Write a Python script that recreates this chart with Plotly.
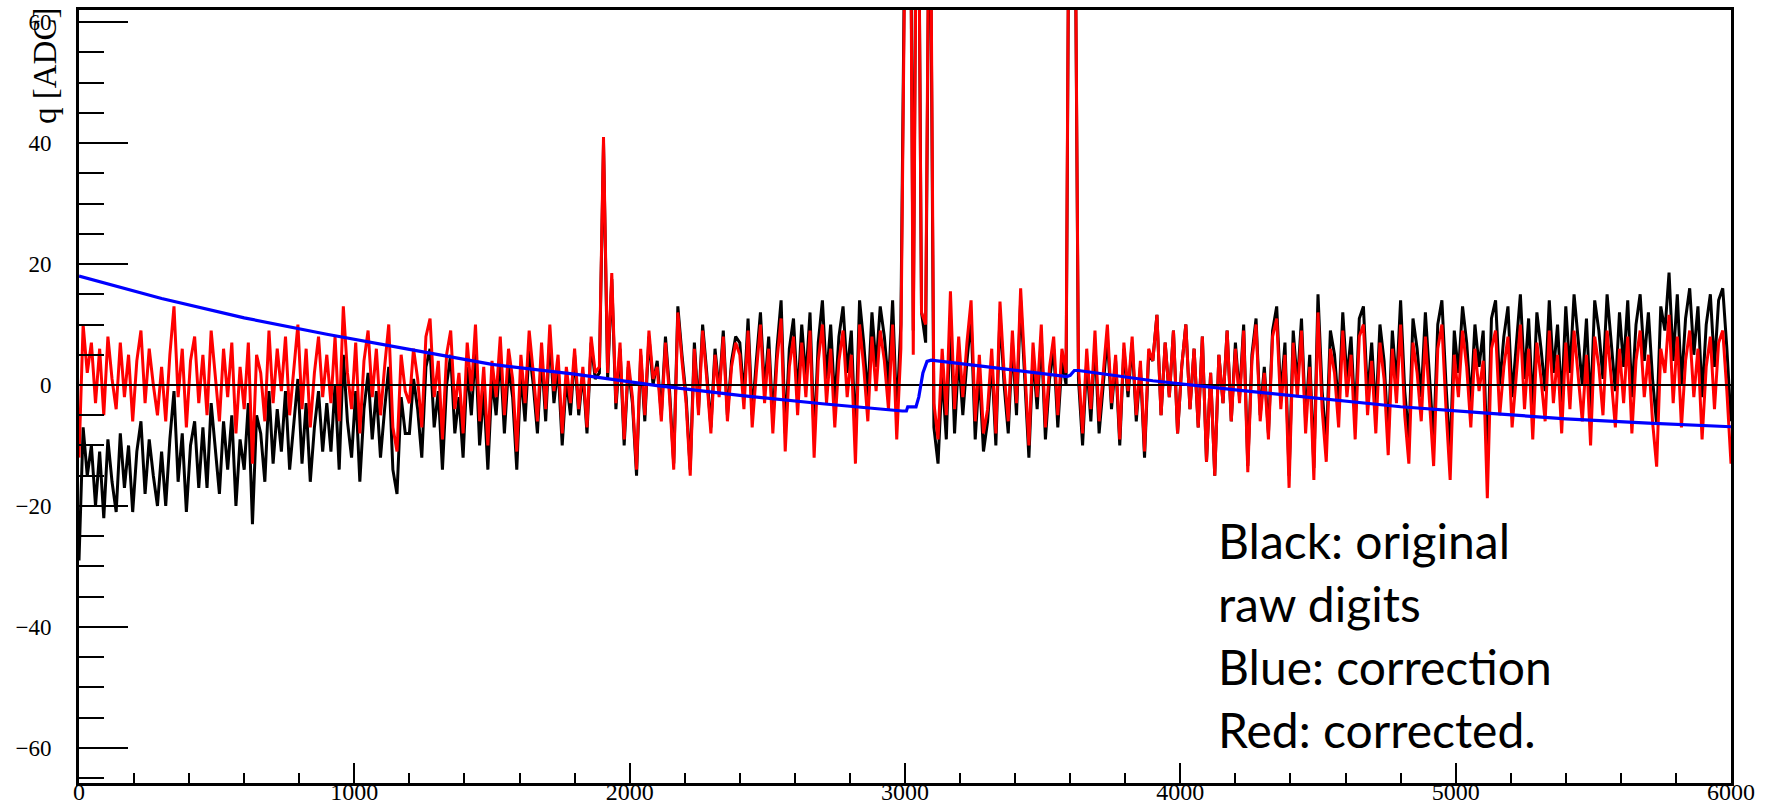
import plotly.graph_objects as go

# Waveform sampled every 15 ticks, 0..6000
sample_step = 15

# Red: corrected ADC values (rows of 20 samples = 300 ticks each)
corrected_adc = (
    [-12, 10, 2, 7, -3, 6, -5, 8, 1, -4, 7, -2, 5, -6, 4, 9, -3, 6, 0, -5]
    + [3, -6, 5, 13, -2, 6, -7, 4, 8, -3, 5, -5, 9, 1, -6, 6, -2, 7, -8, 3]
    + [-4, 7, -13, 5, 2, -6, 9, -3, 6, -1, 8, -5, 3, 10, -4, 6, -7, 2, 8, -2]
    + [5, -3, 8, -6, 13, 2, -4, 7, -8, 4, 9, -2, 6, -5, 3, 10, -7, -11, 5, -1]
    + [-3, 6, 1, -7, 8, 11, -2, 4, -9, 5, 9, -4, 2, -8, 7, -1, 10, -6, 3, -10]
    + [4, -2, 8, -5, 6, 1, -11, 5, -3, 9, 2, -6, 7, -4, 10, -1, 5, -8, 3, -3]
    + [6, -4, 3, -7, 8, 2, 3, 41, 2, 18.5, -3, 7, -9, 4, -2, -14, 6, -5, 9, 1]
    + [3, -6, 7, -2, -14, 12, 4, -3, -15, 6, -5, 9, 1, -8, 5, -2, 8, -6, 3, 7]
    + [5, -4, 9, -7, 2, 10, -3, 6, -8, 4, 11, -11, 3, 8, -5, 7, -2, 9, -12, 4]
    + [10, -3, 6, -7, 4, 9, -2, 5, -13, 10, 3, -6, 8, -1, 9, 4, -4, 10, -9, 6]
    + [75, 120, 5, 110, 12, 10, 100, -3, -9, 6, -5, 15.5, -4, 8, -2, 7, 14, -6, 5, -8]
    + [-4, 6, -8, 13.8, 2, -6, 9, -3, 16, 4, -10, 7, -2, 10, -7, 3, 8, -5, 6, 2]
    + [120, 100, 3, -8, 6, -4, 9, -6, 2, 10, -3, 5, -9, 7, -1, 8, -5, 4, -11, 6]
    + [4, 11.6, -5, 7, -2, 9, -8, 3, 10, -4, 6, -7, 8, -12.7, 2, -15, 5, -3, 9, -6]
    + [6, -3, 9, -14.4, 4, 10, -6, 2, -9, 8, 11, -4, 5, -17, 7, -2, 9, -8, 3, -15.7]
    + [12, -4, -12.7, 6, 2, -7, 9, -2, 5, -9, 8, 10, -5, 4, -8, 7, 1, -11.6, 6, -3]
    + [10, -5, -13, 7, 2, -6, 8, -3, -13.4, 6, 10, -4, -15.7, 5, -2, 9, 3, -7, 6, -1]
    + [4, -18.7, 6, 9, -5, 3, 8, -7, 2, 10, -4, 6, -9, 7, 1, -6, 9, -3, 5, -8]
    + [7, -4, 9, 2, -6, 5, -10, 8, 3, -5, 9, 1, -7, 6, -3, 8, -8, 4, 9, -2]
    + [5, -6, -13.5, 6, 2, 11.6, -3, 8, -7, 4, 9, -2, 6, -9, 3, 8, -4, 7, 9, -1]
    + [-13]
)

# Black: original raw digits
raw_adc = (
    [-29, -7, -15, -10, -20, -11, -22, -9, -16, -21, -8, -17, -10, -21, -11, -6, -18, -9, -15, -20]
    + [-11, -20, -9, -1, -16, -8, -21, -10, -6, -17, -7, -17, -3, -11, -18, -6, -14, -5, -20, -9]
    + [-14, -3, -23, -5, -8, -16, -1, -13, -4, -11, -1, -14, -6, 1, -13, -3, -16, -7, -1, -11]
    + [-3, -11, 0, -14, 5, -6, -12, -1, -16, -4, 2, -9, -1, -12, -4, 3, -14, -18, -2, -8]
    + [-8, 1, -4, -12, 3, 6, -7, -1, -14, 0, 5, -8, -2, -12, 3, -5, 6, -10, -1, -14]
    + [1, -5, 5, -8, 3, -2, -14, 2, -6, 6, 0, -8, 5, -6, 8, -3, 3, -10, 1, -5]
    + [5, -5, 2, -8, 7, 1, 2, 40, 1, 17.5, -4, 6, -10, 3, -3, -15, 5, -6, 8, 0]
    + [4, -5, 8, -1, -13, 13, 5, -2, -14, 7, -4, 10, 2, -7, 6, -1, 9, -5, 4, 8]
    + [7, -2, 11, -5, 4, 12, -1, 8, -6, 6, 14, -8, 6, 11, -2, 10, 1, 12, -9, 7]
    + [14, 1, 10, -3, 8, 13, 2, 9, -9, 14, 7, -2, 12, 3, 13, 8, 0, 14, -5, 10]
    + [79, 124, 9, 113, 12, 7, 96, -7, -13, 2, -9, 11.5, -8, 5, -5, 4, 11, -9, 2, -11]
    + [-6, 4, -10, 11.8, 0, -8, 7, -5, 14, 2, -12, 5, -4, 8, -9, 1, 6, -7, 4, 0]
    + [118, 98, 1, -10, 4, -6, 7, -8, 0, 8, -4, 4, -10, 6, -2, 7, -6, 3, -12, 5]
    + [4, 11.6, -5, 7, -2, 9, -8, 3, 10, -4, 6, -7, 8, -12.7, 2, -15, 5, -3, 9, -6]
    + [7, -2, 10, -13.4, 5, 11, -5, 3, -8, 9, 13, -2, 7, -15, 9, 0, 11, -6, 5, -13.7]
    + [15, -1, -9.7, 9, 5, -4, 12, 1, 8, -6, 11, 13, -2, 7, -5, 10, 4, -8.6, 9, 0]
    + [14, -1, -9, 11, 6, -2, 12, 1, -9.4, 10, 14, 0, -11.7, 9, 2, 13, 7, -3, 10, 3]
    + [9, -13.7, 11, 14, 0, 8, 13, -2, 7, 15, 1, 11, -4, 12, 6, -1, 14, 2, 10, -3]
    + [13, 2, 15, 8, 0, 11, -4, 14, 9, 1, 15, 7, -1, 12, 3, 14, -2, 10, 15, 4]
    + [12, 1, -6.5, 13, 9, 18.6, 4, 15, 0, 11, 16, 5, 13, -2, 10, 15, 3, 14, 16, 6]
    + [-6]
)

# Blue: baseline correction curve
correction_tick = [0, 300, 600, 900, 1200, 1500, 1800, 2100, 2400, 2700, 2990, 3005,
                   3010, 3040, 3050, 3065, 3080, 3095, 3300, 3588, 3600, 3615, 3630,
                   3900, 4200, 4500, 4800, 5100, 5400, 5700, 6000]
correction = [18.0, 14.3, 11.1, 8.4, 5.9, 3.4, 1.8, -0.1, -1.7, -3.1, -4.3, -4.3,
              -3.6, -3.6, -2.0, 2.0, 3.9, 4.1, 3.0, 1.4, 1.6, 2.4, 2.4,
              0.7, -0.8, -2.2, -3.6, -4.6, -5.6, -6.3, -6.9]

ticks = list(range(0, sample_step * len(corrected_adc), sample_step))

legend_lines = ["Black: original", "raw digits", "Blue: correction", "Red: corrected."]

W, H = 1766, 809
L, R, T, B = 79, 35, 10, 26
plot_w, plot_h = W - L - R, H - T - B

fig = go.Figure()
fig.add_trace(go.Scatter(x=ticks, y=raw_adc, mode="lines",
                         line=dict(color="#000000", width=3), hoverinfo="skip"))
fig.add_trace(go.Scatter(x=ticks, y=corrected_adc, mode="lines",
                         line=dict(color="#ff0000", width=3), hoverinfo="skip"))
fig.add_trace(go.Scatter(x=[0, 6000], y=[0, 0], mode="lines",
                         line=dict(color="#000000", width=2), hoverinfo="skip"))
fig.add_trace(go.Scatter(x=correction_tick, y=correction, mode="lines",
                         line=dict(color="#0000ff", width=3.2), hoverinfo="skip"))

serif = "Liberation Serif"

fig.update_layout(
    width=W, height=H, autosize=False,
    margin=dict(l=L, r=R, t=T, b=B, pad=0),
    paper_bgcolor="white", plot_bgcolor="white",
    showlegend=False,
    xaxis=dict(
        range=[0, 6000], showgrid=False, zeroline=False, automargin=False,
        showline=True, linecolor="black", linewidth=3, mirror=True,
        ticks="inside", ticklen=20, tickwidth=2, tickcolor="black",
        tick0=0, dtick=1000,
        minor=dict(ticks="inside", ticklen=10, tickwidth=2, tickcolor="black", dtick=200),
        tickfont=dict(family=serif, size=24, color="black"),
        ticklabelstandoff=-15,
    ),
    yaxis=dict(
        range=[-65.8, 62.0], showgrid=False, zeroline=False, automargin=False,
        showline=True, linecolor="black", linewidth=3, mirror=True,
        ticks="inside", ticklen=49, tickwidth=2, tickcolor="black",
        tick0=0, dtick=20,
        minor=dict(ticks="inside", ticklen=25, tickwidth=2, tickcolor="black", dtick=5),
        tickfont=dict(family=serif, size=23, color="black"),
        ticklabelstandoff=20,
    ),
)

# y-axis title, rotated, at the top end of the axis
fig.add_annotation(
    text="q [ADC]", textangle=-90, showarrow=False,
    xref="paper", yref="paper",
    x=(45 - L) / plot_w, y=(H - B - 6) / plot_h,
    xanchor="center", yanchor="top",
    font=dict(family=serif, size=33, color="black"),
)

# Colour key text block
line_centres = [540, 603, 666, 729]
for line, centre in zip(legend_lines, line_centres):
    fig.add_annotation(
        text=line, showarrow=False,
        xref="paper", yref="paper",
        x=(1216 - L) / plot_w, y=(H - B - centre) / plot_h,
        xanchor="left", yanchor="middle",
        font=dict(family="Lato", size=48, color="black"),
    )

fig.write_html("out.html", config={"displayModeBar": False})
